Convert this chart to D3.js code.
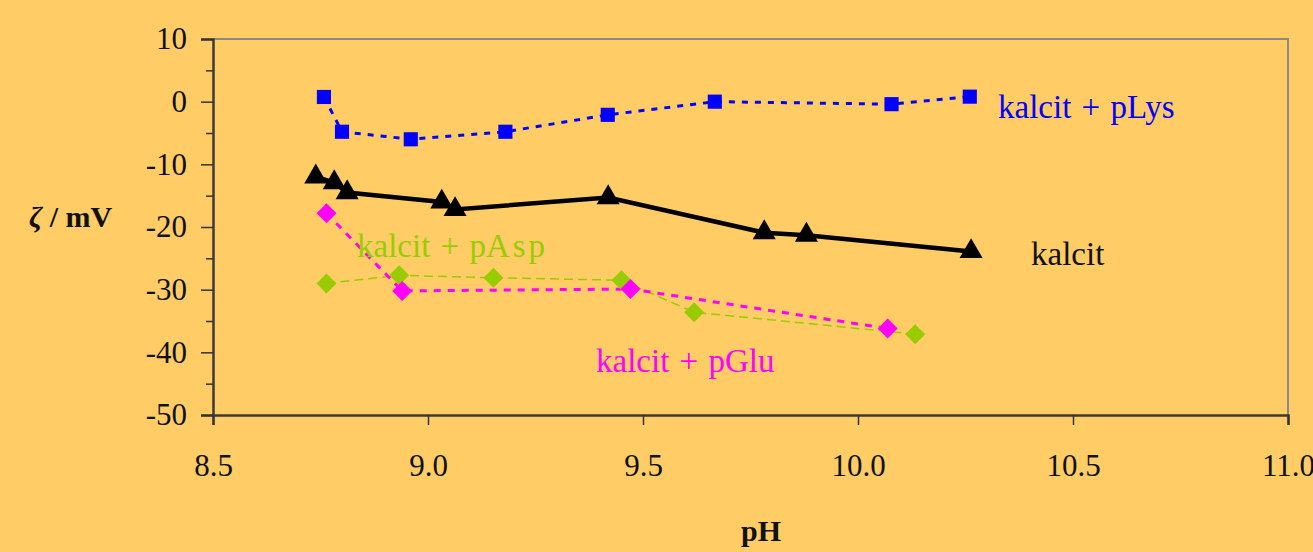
<!DOCTYPE html>
<html>
<head>
<meta charset="utf-8">
<script src="https://cdn.jsdelivr.net/npm/d3@7"></script>
<style>
  html, body { margin: 0; padding: 0; background: #FFCC66; }
  svg { display: block; }
  text { font-family: "Liberation Serif", "Times New Roman", serif; }
</style>
</head>
<body>
<svg id="chart" width="1313" height="552"></svg>
<script>
// Zeta potential of calcite vs pH, bare and with polyamino acids
const pLysPH   = [8.758, 8.80, 8.96, 9.18, 9.418, 9.667, 10.078, 10.26];
const pLysZeta = [0.75, -4.8, -6.0, -4.8, -2.1, 0.0, -0.4, 0.8];

const kalcitPH   = [8.739, 8.782, 8.812, 9.032, 9.063, 9.419, 9.782, 9.88, 10.263];
const kalcitZeta = [-12.0, -12.9, -14.5, -16.0, -17.2, -15.3, -20.9, -21.3, -23.9];

const pAspPH   = [8.764, 8.933, 9.152, 9.45, 9.619, 10.133];
const pAspZeta = [-29.0, -27.7, -28.1, -28.5, -33.6, -37.1];

const pGluPH   = [8.764, 8.94, 9.471, 10.069];
const pGluZeta = [-17.8, -30.2, -29.9, -36.2];

const xTicks = [8.5, 9.0, 9.5, 10.0, 10.5, 11.0];
const yTicks = [10, 0, -10, -20, -30, -40, -50];
const yMinorTicks = [5, -5, -15, -25, -35, -45];

const svg = d3.select("#chart");
const plotL = 213, plotR = 1288, plotT = 39, plotB = 415;

const x = d3.scaleLinear().domain([8.5, 11.0]).range([plotL, plotR]);
const y = d3.scaleLinear().domain([-50, 10]).range([plotB, plotT]);

// plot frame: grey top/right edges
svg.append("path")
  .attr("d", `M${plotL},${plotT}H${plotR}V${plotB}`)
  .attr("fill", "none").attr("stroke", "#8a8a8a").attr("stroke-width", 2);

// y axis (plain hyphen for negatives)
const yAxis = svg.append("g").attr("transform", `translate(${plotL},0)`)
  .call(d3.axisLeft(y).tickValues(yTicks).tickFormat(d => String(d)).tickSize(12).tickPadding(14));
yAxis.selectAll(".tick line").attr("stroke", "#333").attr("stroke-width", 1.5);
svg.append("g").attr("transform", `translate(${plotL},0)`)
  .call(d3.axisLeft(y).tickValues(yMinorTicks).tickFormat("").tickSize(7))
  .call(g => g.select(".domain").remove())
  .selectAll(".tick line").attr("stroke", "#333").attr("stroke-width", 1.5);

// x axis
const xAxis = svg.append("g").attr("transform", `translate(0,${plotB})`)
  .call(d3.axisBottom(x).tickValues(xTicks).tickFormat(d3.format(".1f")).tickSize(10).tickPadding(45));
xAxis.selectAll(".tick line").attr("stroke", "#333").attr("stroke-width", 1.5);

[yAxis, xAxis].forEach(a => {
  a.attr("font-family", null);
  a.select(".domain").attr("stroke", "#3a3a3a").attr("stroke-width", 2.5);
  a.selectAll(".tick text").attr("font-size", 31).attr("fill", "#111");
});
xAxis.selectAll(".tick text").attr("dy", "0.2em");

// axis titles
const yTitle = svg.append("text").attr("x", 29).attr("y", 227)
  .attr("font-size", 30).attr("font-weight", "bold").attr("fill", "#111");
yTitle.append("tspan").attr("font-style", "italic").text("ζ");
yTitle.append("tspan").text(" / mV");

svg.append("text").attr("x", 761).attr("y", 541).attr("text-anchor", "middle")
  .attr("font-size", 30).attr("font-weight", "bold").attr("fill", "#111").text("pH");

const line = d3.line().x(d => x(d[0])).y(d => y(d[1]));
const pts = (xs, ys) => xs.map((v, i) => [v, ys[i]]);

// series: lines first, markers on top
const series = [
  { data: pts(pAspPH, pAspZeta), color: "#99CC00", width: 1.5, dash: "9,5", sym: d3.symbolSquare, size: 200, rot: 45 },
  { data: pts(pGluPH, pGluZeta), color: "#FF00FF", width: 3, dash: "7,7", sym: d3.symbolSquare, size: 200, rot: 45 },
  { data: pts(pLysPH, pLysZeta), color: "#0000FF", width: 3, dash: "6,7", sym: d3.symbolSquare, size: 200, rot: 0 },
  { data: pts(kalcitPH, kalcitZeta), color: "#000000", width: 4.5, dash: null, sym: d3.symbolTriangle, size: 230, rot: 0 }
];

series.forEach(s => {
  svg.append("path").datum(s.data)
    .attr("d", line).attr("fill", "none")
    .attr("stroke", s.color).attr("stroke-width", s.width)
    .attr("stroke-dasharray", s.dash);
});
series.forEach(s => {
  svg.append("g").selectAll("path").data(s.data).join("path")
    .attr("transform", d => `translate(${x(d[0])},${y(d[1])}) rotate(${s.rot})`)
    .attr("d", d3.symbol().type(s.sym).size(s.size))
    .attr("fill", s.color);
});

// series labels
const labels = [
  { text: "kalcit + pLys", x: 998, y: 118, color: "#0000FF" },
  { text: "kalcit", x: 1031, y: 265, color: "#111" },
  { text: "kalcit + pGlu", x: 596, y: 372, color: "#FF00FF" }
];
labels.forEach(l => {
  svg.append("text").attr("x", l.x).attr("y", l.y)
    .attr("font-size", 33).attr("word-spacing", 2).attr("fill", l.color).text(l.text);
});
const aspLabel = svg.append("text").attr("x", 357).attr("y", 257)
  .attr("font-size", 33).attr("word-spacing", 2).attr("fill", "#99CC00");
aspLabel.append("tspan").text("kalcit + p");
aspLabel.append("tspan").attr("letter-spacing", 3).text("Asp");
</script>
</body>
</html>
